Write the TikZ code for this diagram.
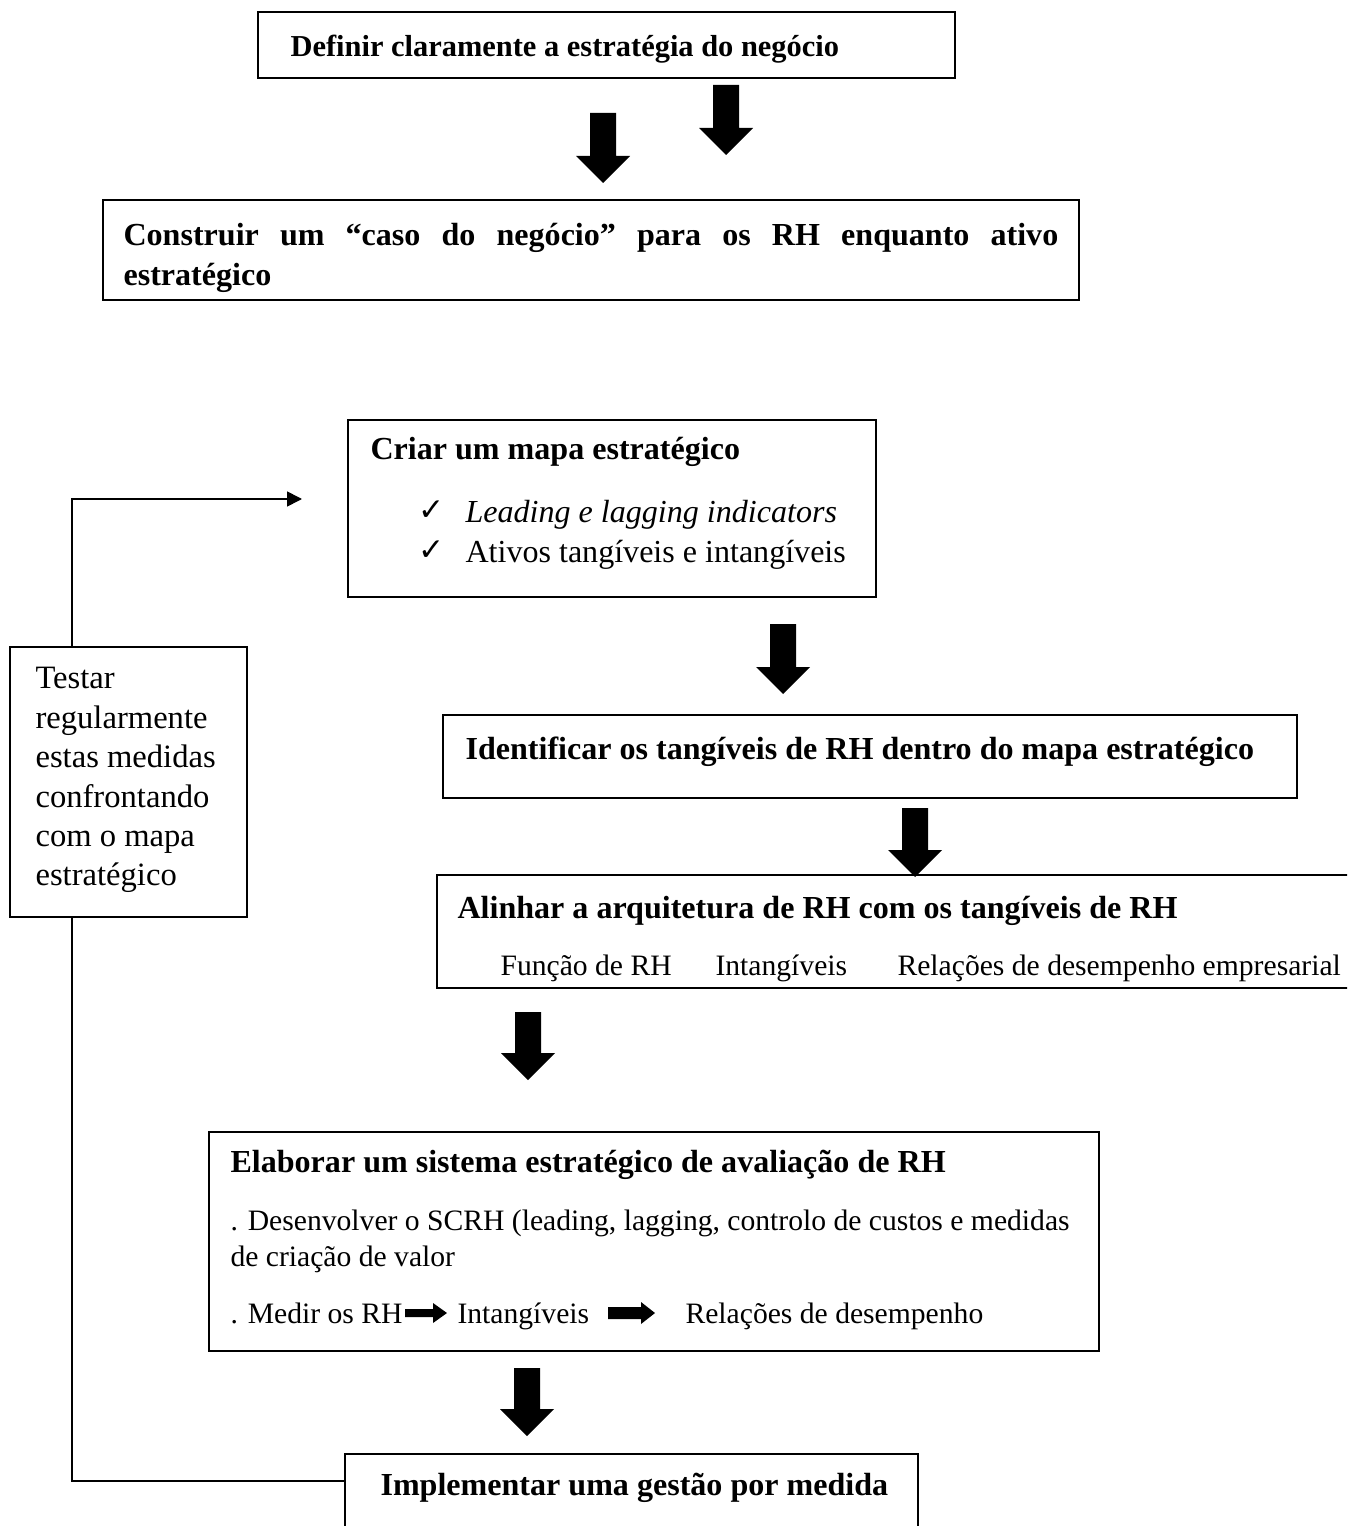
\documentclass[tikz,border=0pt]{standalone}
\usepackage{fontspec}
\setmainfont{Liberation Serif}
\newfontfamily\symfont{DejaVu Sans}
\usetikzlibrary{fit,calc,arrows.meta}

% thick down-pointing block arrow: centre x, top y, tip y
\newcommand\blkarrow[3]{%
  \fill (#1-13,#2) -- (#1+13,#2) -- (#1+13,#3-27) -- (#1+27,#3-27) -- (#1,#3)
        -- (#1-27,#3-27) -- (#1-13,#3-27) -- cycle;}
% small right-pointing block arrow: start x, end x, centre y, half shaft, half head
\newcommand\rgtarrow[5]{%
  \fill (#1,#3-#4) -- (#2-14,#3-#4) -- (#2-14,#3-#5) -- (#2,#3) -- (#2-14,#3+#5)
        -- (#2-14,#3+#4) -- (#1,#3+#4) -- cycle;}

\begin{document}
\begin{tikzpicture}[x=0.368pt,y=-0.368pt,
  box/.style={draw, line width=0.8pt, inner sep=0pt},
  txt/.style={anchor=base west, inner sep=0pt, font=\fontsize{11.8}{14.5}\selectfont},
  btxt/.style={txt, font=\fontsize{11.8}{14.5}\selectfont\bfseries},
  stxt/.style={txt, font=\fontsize{10.9}{13}\selectfont},
  chk/.style={txt, font=\symfont\bfseries\fontsize{11.5}{12}\selectfont},
  fb/.style={line width=0.6pt}]
\clip (0,0) rectangle (1347,1526);
\fill[white] (0,0) rectangle (1347,1526);

% boxes
\node[box, fit={(258,12) (955,78)}] (b1) {};
\node[box, fit={(103,200) (1079,300)}] (b2) {};
\node[box, fit={(348,420) (876,597)}] (b3) {};
\node[box, fit={(10,647) (247,917)}] (t) {};
\node[box, fit={(443,715) (1297,798)}] (b5) {};
\node[box, fit={(437,875) (1360,988)}] (b6) {};
\node[box, fit={(209,1132) (1099,1351)}] (b7) {};
\node[box, fit={(345,1454) (918,1540)}] (b8) {};

% texts
\node[btxt, font=\fontsize{11.2}{13}\selectfont\bfseries] (b1t) at (290,57) {Definir claramente a estratégia do negócio};
\node[txt, anchor=north west] (b2t) at (123,223) {\parbox[t]{344pt}{\bfseries
  \hyphenpenalty=10000 \tolerance=10000 \parfillskip=0pt plus 1fil
  \baselineskip=14.7pt
  Construir um “caso do negócio” para os RH enquanto ativo estratégico}};
\node[btxt] (b3t) at (370,460) {Criar um mapa estratégico};
\node[chk] (c1) at (418,520) {✓};
\node[txt] (c1t) at (465,522) {\itshape Leading e lagging indicators};
\node[chk] (c2) at (418,560) {✓};
\node[txt] (c2t) at (465,562) {Ativos tangíveis e intangíveis};
\node[txt, anchor=north west, align=left, font=\fontsize{12}{14.5}\selectfont] (tt) at (35,667)
  {Testar\\regularmente\\estas medidas\\confrontando\\com o mapa\\estratégico};
\node[btxt] (b5t) at (465,759) {Identificar os tangíveis de RH dentro do mapa estratégico};
\node[btxt] (b6t) at (457,918) {Alinhar a arquitetura de RH com os tangíveis de RH};
\node[stxt] (b6a) at (500,975) {Função de RH};
\node[stxt] (b6b) at (715,975) {Intangíveis};
\node[stxt] (b6c) at (897,975) {Relações de desempenho empresarial};
\node[btxt] (b7t) at (230,1172) {Elaborar um sistema estratégico de avaliação de RH};
\node[stxt] (b7a) at (230,1230) {. Desenvolver o SCRH (leading, lagging, controlo de custos e medidas};
\node[stxt] (b7b) at (230,1266) {de criação de valor};
\node[stxt] (b7c) at (230,1323) {. Medir os RH};
\node[stxt] (b7d) at (457,1323) {Intangíveis};
\node[stxt] (b7e) at (685,1323) {Relações de desempenho};
\node[btxt] (b8t) at (380,1495) {Implementar uma gestão por medida};

% block arrows between the steps
\blkarrow{726}{85}{155}
\blkarrow{603}{113}{183}
\blkarrow{783}{624}{694}
\blkarrow{915}{808}{877}
\blkarrow{528}{1012}{1080}
\blkarrow{527}{1368}{1436}
\rgtarrow{405}{447}{1313}{4}{10}
\rgtarrow{608}{655}{1313}{6}{11}

% feedback loop
\coordinate (fbend) at (302,499);
\coordinate (b8in) at ($(b8.north west)+(0,28)$);
\draw[fb, -{Triangle[length=5.5pt,width=5.5pt]}] ($(t.north west)+(63,0)$) |- (fbend);
\draw[fb] ($(t.south west)+(63,0)$) |- (b8in);
\end{tikzpicture}
\end{document}
